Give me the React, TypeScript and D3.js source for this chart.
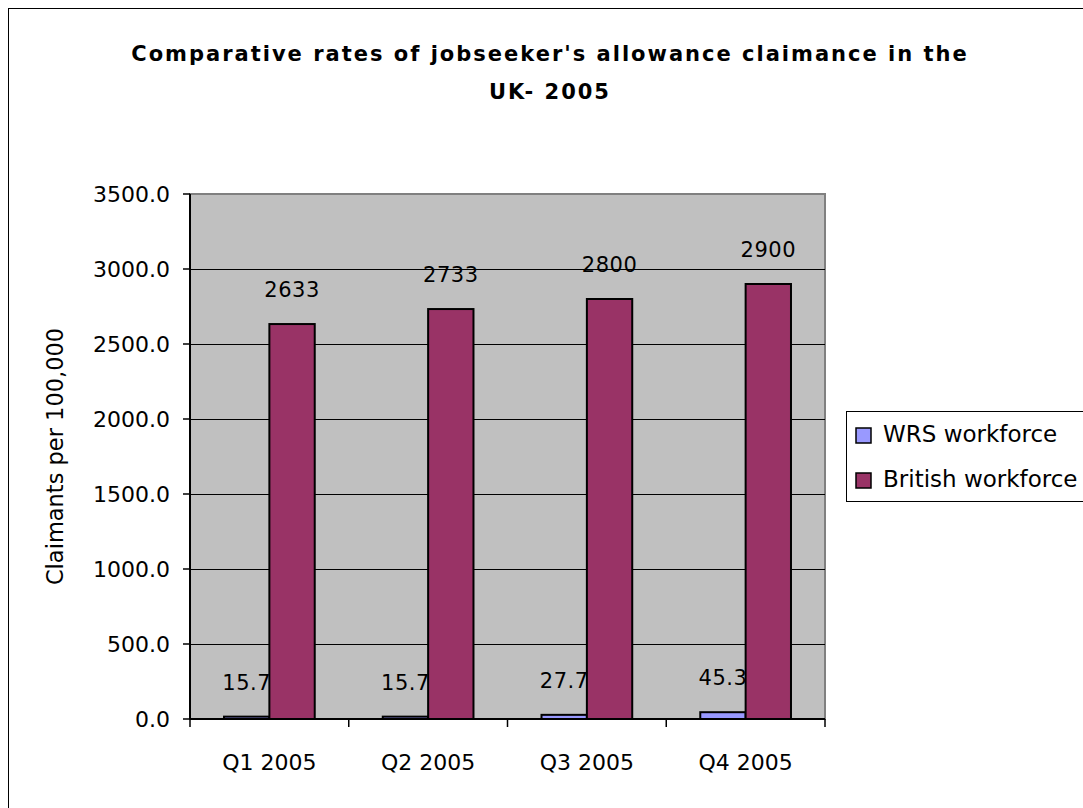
import React from "react";
import * as d3 from "d3";

const categories = ["Q1 2005", "Q2 2005", "Q3 2005", "Q4 2005"];
const wrsValues = [15.7, 15.7, 27.7, 45.3];
const britishValues = [2633, 2733, 2800, 2900];
const wrsLabels = ["15.7", "15.7", "27.7", "45.3"];
const britishLabels = ["2633", "2733", "2800", "2900"];
const yTicks = [0, 500, 1000, 1500, 2000, 2500, 3000, 3500];
const seriesNames = ["WRS workforce", "British workforce"];
const seriesColors = ["#9999FF", "#993366"];
const titleLines = ["Comparative rates of jobseeker's allowance claimance in the", "UK- 2005"];
const yAxisTitle = "Claimants per 100,000";

export default function App() {
  const W = 1083, H = 808;
  const plot = { left: 190, right: 825, top: 194, bottom: 719 };
  const font = "'DejaVu Sans', Verdana, sans-serif";

  const y = d3.scaleLinear().domain([0, 3500]).range([plot.bottom, plot.top]);
  const x = d3.scaleBand().domain(categories).range([plot.left, plot.right]).paddingInner(0).paddingOuter(0);
  const bw = x.bandwidth();
  const barW = bw / 3.5;
  const groupOffset = (bw - 2 * barW) / 2;
  const series = [wrsValues, britishValues];
  const labels = [wrsLabels, britishLabels];

  return (
    <svg width={W} height={H} style={{ position: "absolute", left: 0, top: 0, background: "#fff" }} fontFamily={font}>
      <rect x={8.5} y={8.5} width={1200} height={1000} fill="#fff" stroke="#000" strokeWidth={1} />
      {titleLines.map((t, i) => (
        <text key={i} x={550} y={61 + i * 38} textAnchor="middle" fontSize={21} fontWeight="bold" letterSpacing={2} fill="#000">{t}</text>
      ))}
      <rect x={plot.left} y={plot.top} width={plot.right - plot.left} height={plot.bottom - plot.top} fill="#C0C0C0" stroke="#808080" strokeWidth={2} />
      {yTicks.filter(v => v > 0 && v < 3500).map(v => (
        <line key={v} x1={plot.left} x2={plot.right} y1={Math.round(y(v)) + 0.5} y2={Math.round(y(v)) + 0.5} stroke="#000" strokeWidth={1} />
      ))}
      {series.map((vals, si) => categories.map((c, ci) => {
        const x0 = (x(c) as number) + groupOffset + si * barW;
        return (
          <rect key={si + "-" + ci} x={x0} y={y(vals[ci])} width={barW} height={plot.bottom - y(vals[ci])} fill={seriesColors[si]} stroke="#000" strokeWidth={2} />
        );
      }))}
      {series.map((vals, si) => categories.map((c, ci) => {
        const xc = (x(c) as number) + groupOffset + si * barW + barW / 2;
        return (
          <text key={"l" + si + "-" + ci} x={xc} y={y(vals[ci]) - 27} textAnchor="middle" fontSize={21} letterSpacing={0.5} fill="#000">{labels[si][ci]}</text>
        );
      }))}
      <line x1={plot.left} x2={plot.left} y1={plot.top} y2={plot.bottom} stroke="#000" strokeWidth={2} />
      <line x1={plot.left} x2={plot.right} y1={plot.bottom} y2={plot.bottom} stroke="#000" strokeWidth={2} />
      {yTicks.map(v => (
        <g key={"yt" + v}>
          <line x1={plot.left - 7} x2={plot.left} y1={y(v)} y2={y(v)} stroke="#000" strokeWidth={1.5} />
          <text x={170} y={y(v)} dy="0.36em" textAnchor="end" fontSize={22} fill="#000">{d3.format(".1f")(v)}</text>
        </g>
      ))}
      {[...categories.map(c => x(c) as number), plot.right].map((xv, i) => (
        <line key={"xt" + i} x1={xv} x2={xv} y1={plot.bottom} y2={plot.bottom + 8} stroke="#000" strokeWidth={1.5} />
      ))}
      {categories.map(c => (
        <text key={"xl" + c} x={(x(c) as number) + bw / 2} y={762} dy="0.36em" textAnchor="middle" fontSize={22} fill="#000">{c}</text>
      ))}
      <text transform={`translate(55,${(plot.top + plot.bottom) / 2}) rotate(-90)`} textAnchor="middle" dy="0.36em" fontSize={22.5} fill="#000">{yAxisTitle}</text>
      <rect x={846.5} y={411.5} width={300} height={90} fill="#fff" stroke="#000" strokeWidth={1} />
      {seriesNames.map((n, i) => (
        <g key={n}>
          <rect x={856} y={428 + i * 45} width={15} height={15} fill={seriesColors[i]} stroke="#000" strokeWidth={1.5} />
          <text x={883} y={434 + i * 45} dy="0.36em" fontSize={23} fill="#000">{n}</text>
        </g>
      ))}
    </svg>
  );
}
